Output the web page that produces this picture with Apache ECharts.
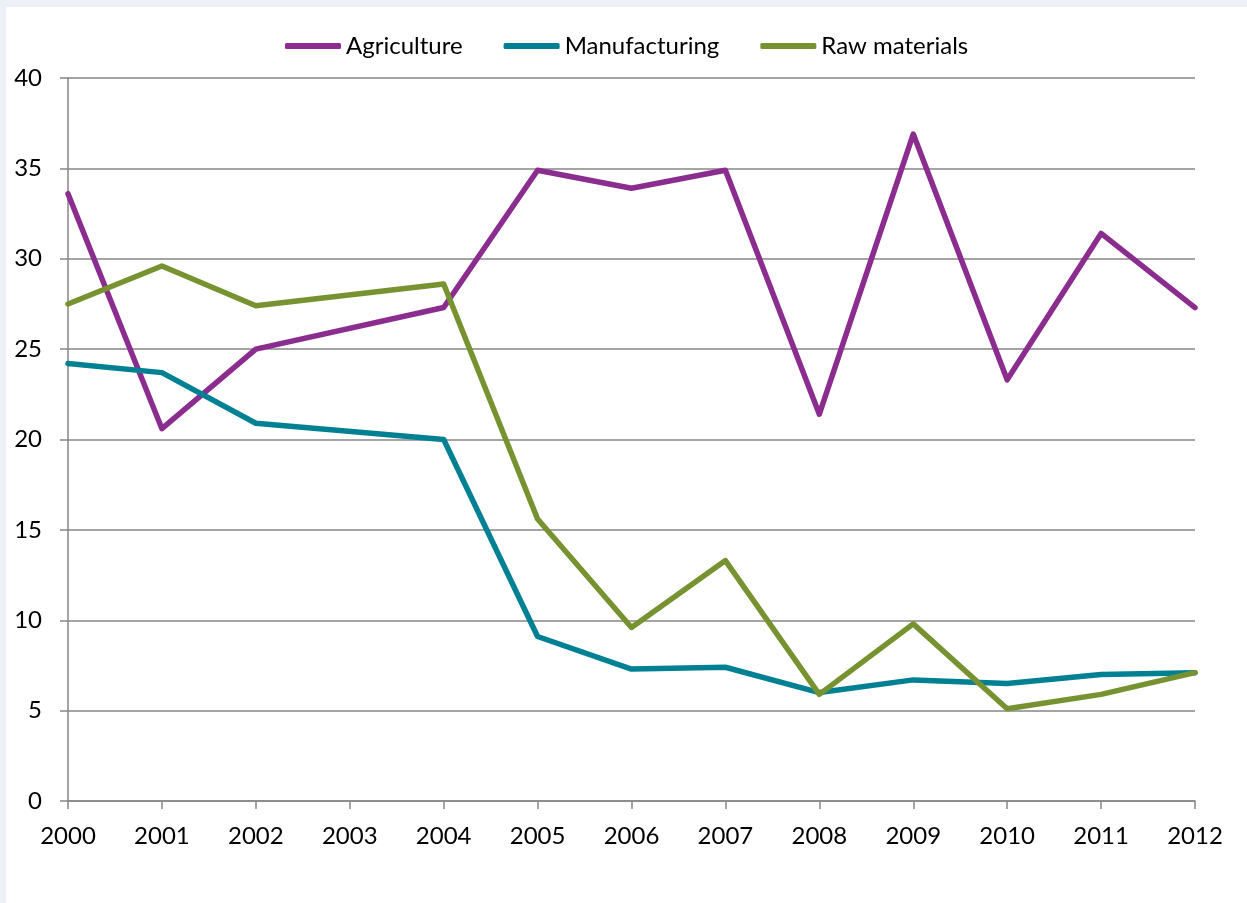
<!DOCTYPE html>
<html>
<head>
<meta charset="utf-8">
<script src="https://cdn.jsdelivr.net/npm/echarts@6/dist/echarts.min.js"></script>
<style>
  html, body { margin: 0; padding: 0; background: #edf0f6; }
  #chart { position: absolute; left: 6px; top: 7px; width: 1241px; height: 896px; background: #ffffff; }
</style>
</head>
<body>
<div id="chart"></div>
<script>
// years on the x axis (2003 has no value, lines join across it)
var years = ['2000', '2001', '2002', '2003', '2004', '2005', '2006', '2007', '2008', '2009', '2010', '2011', '2012'];
var agriculture = [33.6, 20.6, 25.0, null, 27.3, 34.9, 33.9, 34.9, 21.4, 36.9, 23.3, 31.4, 27.3];
var manufacturing = [24.2, 23.7, 20.9, null, 20.0, 9.1, 7.3, 7.4, 6.0, 6.7, 6.5, 7.0, 7.1];
var rawMaterials = [27.5, 29.6, 27.4, null, 28.6, 15.6, 9.6, 13.3, 5.9, 9.8, 5.1, 5.9, 7.1];

var font = 'Lato';
var gridColor = '#868686';

function makeSeries(name, data, color) {
  return {
    name: name,
    type: 'line',
    data: data,
    connectNulls: true,
    symbol: 'none',
    lineStyle: { color: color, width: 5.5, cap: 'round', join: 'round' },
    itemStyle: { color: color }
  };
}

var myChart = echarts.init(document.getElementById('chart'));
myChart.setOption({
  animation: false,
  textStyle: { fontFamily: font },
  legend: {
    left: 274,
    top: 22,
    icon: 'roundRect',
    itemWidth: 56,
    itemHeight: 6,
    itemGap: 41,
    textStyle: { fontFamily: font, fontSize: 24, color: '#000' },
    data: ['Agriculture', 'Manufacturing', 'Raw materials']
  },
  grid: { left: 62, right: 52, top: 71, bottom: 102 },
  xAxis: {
    type: 'category',
    data: years,
    boundaryGap: false,
    axisLine: { lineStyle: { color: gridColor, width: 1.5 } },
    axisTick: { show: true, length: 8, lineStyle: { color: gridColor, width: 1.5 } },
    axisLabel: { color: '#000', fontSize: 24, fontFamily: font, margin: 23, interval: 0 }
  },
  yAxis: {
    type: 'value',
    min: 0,
    max: 40,
    interval: 5,
    axisLine: { show: true, lineStyle: { color: gridColor, width: 1.5 } },
    axisTick: { show: true, length: 8, lineStyle: { color: gridColor, width: 1.5 } },
    axisLabel: { color: '#000', fontSize: 24, fontFamily: font, margin: 26 },
    splitLine: { lineStyle: { color: gridColor, width: 1.5 } }
  },
  series: [
    makeSeries('Agriculture', agriculture, '#8b2c8f'),
    makeSeries('Manufacturing', manufacturing, '#008193'),
    makeSeries('Raw materials', rawMaterials, '#779331')
  ]
});
</script>
</body>
</html>
